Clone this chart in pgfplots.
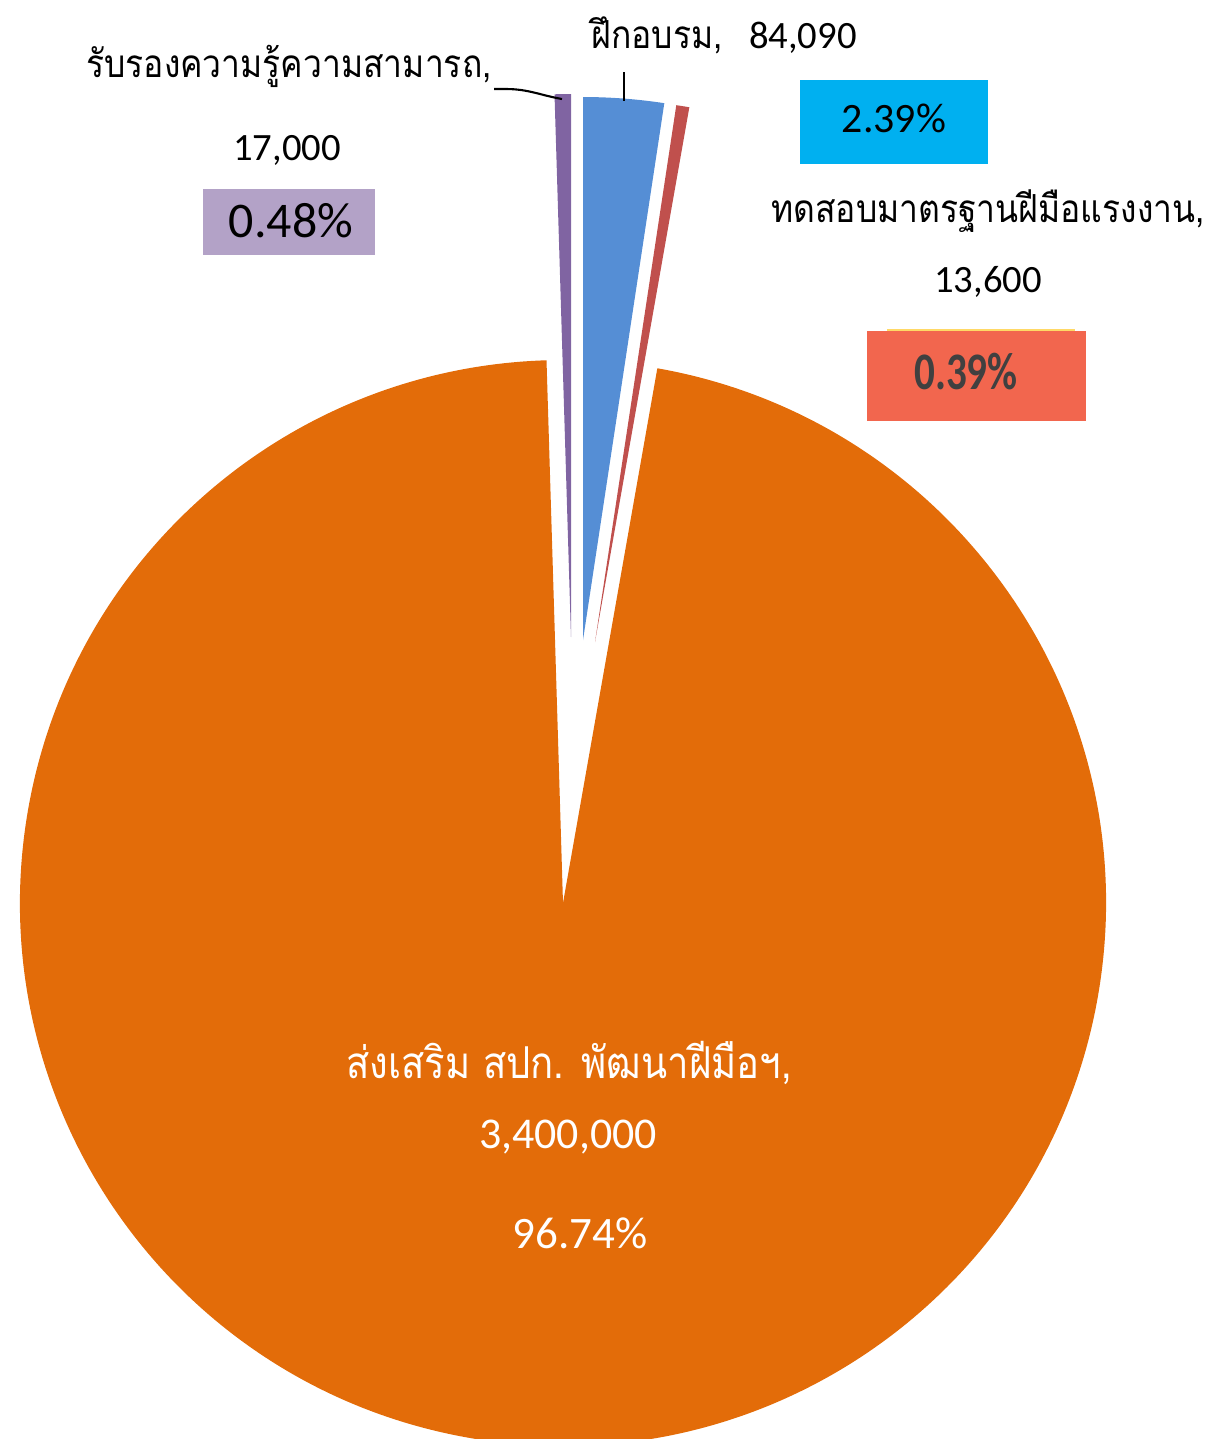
\documentclass[border=0pt]{standalone}
\usepackage{pgfplots}
\pgfplotsset{compat=1.18}
\usepackage{xfp}
\usepackage{fontspec}
\setmainfont{Carlito}
\newfontfamily\thai[Script=Thai]{Loma}
\newcommand{\thtxt}[1]{\scalebox{0.87}[1]{\thai #1}}
\definecolor{cOrange}{HTML}{E36C09}
\definecolor{cBlue}{HTML}{558ED5}
\definecolor{cRed}{HTML}{C0504D}
\definecolor{cPurple}{HTML}{8064A2}
\definecolor{bCyan}{HTML}{00B0F0}
\definecolor{bPurple}{HTML}{B3A2C7}
\definecolor{bRed}{HTML}{F2664E}
\definecolor{bYellow}{HTML}{FFD966}
\definecolor{tGray}{HTML}{404040}
% data values
\def\vTrain{84090}
\def\vTest{13600}
\def\vPromote{3400000}
\def\vCert{17000}
\edef\tot{\fpeval{\vTrain+\vTest+\vPromote+\vCert}}
\edef\aA{90}
\edef\aB{\fpeval{round(\aA-360*\vTrain/\tot,4)}}
\edef\aC{\fpeval{round(\aB-360*\vTest/\tot,4)}}
\edef\aD{\fpeval{round(\aC-360*\vPromote/\tot,4)}}
\edef\aE{\fpeval{round(\aD-360*\vCert/\tot,4)}}
\begin{document}
\begin{tikzpicture}
\clip (0,0) rectangle (12.18cm,14.39cm);
\begin{axis}[
  at={(0,0)}, anchor=south west,
  scale only axis, width=12.18cm, height=14.39cm,
  xmin=0, xmax=1218, ymin=0, ymax=1439, y dir=reverse,
  hide axis, clip=true,
]
\addplot[draw=none] coordinates {(0,0) (1218,1439)};
% slices (exploded tips)
\fill[cOrange] (axis cs:563,903) -- ++(\aC:5.43cm) arc[start angle=\aC, end angle=\aD, radius=5.43cm] -- cycle;
\fill[cBlue] (axis cs:583,640) -- ++(\aA:5.43cm) arc[start angle=\aA, end angle=\aB, radius=5.43cm] -- cycle;
\fill[cRed] (axis cs:595,642) -- ++(\aB:5.43cm) arc[start angle=\aB, end angle=\aC, radius=5.43cm] -- cycle;
\fill[cPurple] (axis cs:571,637) -- ++(\aD:5.43cm) arc[start angle=\aD, end angle=\aE, radius=5.43cm] -- cycle;
% leader lines
\draw[black, line width=0.6pt] (axis cs:624,72) -- (axis cs:624,101);
\draw[black, line width=0.6pt] (axis cs:494,89) -- (axis cs:506,89) to[out=0,in=170] (axis cs:562,99);
% boxes
\fill[bCyan] (axis cs:800,80) rectangle (axis cs:988,164);
\fill[bPurple] (axis cs:203,189) rectangle (axis cs:375,255);
\fill[bRed] (axis cs:867,331) rectangle (axis cs:1086,421);
\draw[bYellow, line width=0.6pt] (axis cs:887,330) -- (axis cs:1075,330);
% labels
\node[anchor=base west, inner sep=0pt, font=\fontsize{11}{13}\selectfont] at (axis cs:591,48) {\thtxt{ฝึกอบรม,}\ \ \ 84,090};
\node[anchor=base, inner sep=0pt, font=\fontsize{11.9}{14}\selectfont] at (axis cs:894,132) {2.39\%};
\node[anchor=base, inner sep=0pt, font=\fontsize{11}{13}\selectfont] at (axis cs:289,77) {\thtxt{รับรองความรู้ความสามารถ,}};
\node[anchor=base, inner sep=0pt, font=\fontsize{11}{13}\selectfont] at (axis cs:287,160) {17,000};
\node[anchor=base, inner sep=0pt, font=\fontsize{14.2}{16}\selectfont] at (axis cs:291,237) {0.48\%};
\node[anchor=base, inner sep=0pt, font=\fontsize{11}{13}\selectfont] at (axis cs:988,222) {\thtxt{ทดสอบมาตรฐานฝีมือแรงงาน,}};
\node[anchor=base, inner sep=0pt, font=\fontsize{11}{13}\selectfont] at (axis cs:988,292) {13,600};
\node[anchor=base, inner sep=0pt, text=tGray, font=\fontsize{15}{17}\selectfont\bfseries] at (axis cs:966,389) {\scalebox{0.78}[1]{0.39\%}};
\node[anchor=base, inner sep=0pt, text=white, font=\fontsize{12.5}{15}\selectfont] at (axis cs:569,1078) {\thtxt{ส่งเสริม สปก. พัฒนาฝีมือฯ,}};
\node[anchor=base, inner sep=0pt, text=white, font=\fontsize{12.5}{15}\selectfont] at (axis cs:568,1148) {3,400,000};
\node[anchor=base, inner sep=0pt, text=white, font=\fontsize{12.8}{15}\selectfont] at (axis cs:580,1248) {96.74\%};
\end{axis}
\end{tikzpicture}
\end{document}
